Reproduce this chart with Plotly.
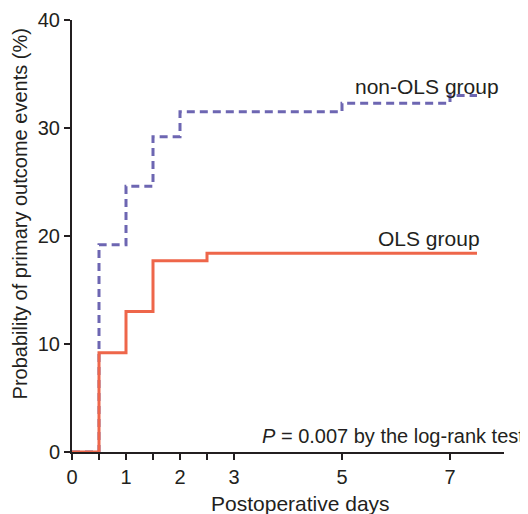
import plotly.graph_objects as go

# Data
ols_days = [0, 0.5, 1, 1.5, 2.5, 7.5]
ols_prob = [0, 9.2, 13.0, 17.7, 18.4, 18.4]
non_ols_days = [0, 0.5, 1, 1.5, 2, 5, 7, 7.5]
non_ols_prob = [0, 19.2, 24.6, 29.2, 31.5, 32.3, 33.0, 33.0]

x_tickvals = [0, 0.5, 1, 1.5, 2, 2.5, 3, 5, 7]
x_ticktext = ["0", "", "1", "", "2", "", "3", "5", "7"]
y_tickvals = [0, 10, 20, 30, 40]

x_title = "Postoperative days"
y_title = "Probability of primary outcome events (%)"

FONT = "Liberation Sans, Arial, sans-serif"
TXT = "#231F20"

fig = go.Figure()
fig.add_trace(go.Scatter(
    x=non_ols_days, y=non_ols_prob, mode="lines", line_shape="hv",
    line=dict(color="#6D66B2", width=3, dash="8px,5px"),
    cliponaxis=False, showlegend=False, name="non-OLS group"))
fig.add_trace(go.Scatter(
    x=ols_days, y=ols_prob, mode="lines", line_shape="hv",
    line=dict(color="#EE664A", width=3),
    cliponaxis=False, showlegend=False, name="OLS group"))

fig.add_annotation(x=7.95, y=33.8, xref="x", yref="y", text="non-OLS group",
                   showarrow=False, xanchor="right", yanchor="middle",
                   font=dict(size=21, color=TXT, family=FONT))
fig.add_annotation(x=7.6, y=19.8, xref="x", yref="y", text="OLS group",
                   showarrow=False, xanchor="right", yanchor="middle",
                   font=dict(size=21, color=TXT, family=FONT))
fig.add_annotation(x=1.0, y=1.5, xref="paper", yref="y",
                   text="<i>P</i> = 0.007 by the log-rank test",
                   showarrow=False, xanchor="right", yanchor="middle",
                   xshift=22,
                   font=dict(size=20, color=TXT, family=FONT))

# axis titles as annotations for precise placement
fig.add_annotation(x=0.528, y=0, xref="paper", yref="paper", text=x_title,
                   showarrow=False, xanchor="center", yanchor="middle", yshift=-51,
                   font=dict(size=21, color=TXT, family=FONT))
fig.add_annotation(x=0, y=22.0, xref="paper", yref="y", text=y_title,
                   showarrow=False, xanchor="center", yanchor="middle", xshift=-52,
                   textangle=-90,
                   font=dict(size=20, color=TXT, family=FONT))

# The page body has an 8px default margin; size the figure to fit the window.
fig.update_layout(
    width=520, height=506,
    margin=dict(l=64, r=24, t=12, b=62),
    plot_bgcolor="white", paper_bgcolor="white",
    font=dict(family=FONT, color=TXT, size=20),
    showlegend=False,
)
fig.update_xaxes(
    range=[0, 8], tickvals=x_tickvals, ticktext=x_ticktext, automargin=False,
    showgrid=False, zeroline=False, showline=True, linecolor=TXT, linewidth=2,
    ticks="outside", ticklen=6, tickwidth=2, tickcolor=TXT,
    tickfont=dict(size=20, family=FONT, color=TXT),
)
fig.update_yaxes(
    range=[0, 40], tickvals=y_tickvals, automargin=False,
    showgrid=False, zeroline=False, showline=True, linecolor=TXT, linewidth=2,
    ticks="outside", ticklen=6, tickwidth=2, tickcolor=TXT,
    tickfont=dict(size=20, family=FONT, color=TXT),
)

fig.write_html("out.html")
